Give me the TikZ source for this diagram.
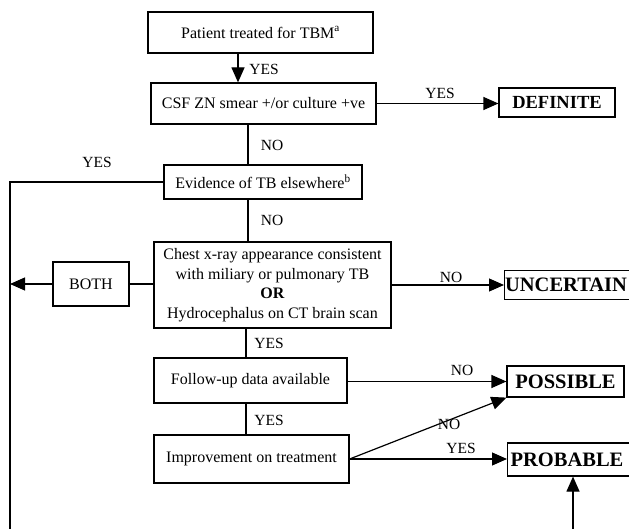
\documentclass[tikz,border=0pt]{standalone}
\usepackage{fontspec}
\setmainfont{Liberation Serif}
\usetikzlibrary{arrows.meta}
\begin{document}
\begin{tikzpicture}[x=1pt,y=-1pt,
  every path/.style={line width=1.2pt},
  box/.style={draw,line width=1.2pt,inner sep=2pt,align=center,font=\fontsize{16}{19.5}\selectfont},
  outbox/.style={draw,line width=1.2pt,inner sep=2pt,font=\fontsize{20.5}{24}\selectfont\bfseries},
  lab/.style={inner sep=0pt,font=\fontsize{15.5}{18}\selectfont},
  arr/.style={-{Triangle[length=15pt,width=13pt]}}]
\useasboundingbox (0,0) rectangle (629,529);
% main boxes
\node[box,minimum width=225,minimum height=41] (b1) at (260.5,32.5) {Patient treated for TBM\textsuperscript{a}};
\node[box,minimum width=225,minimum height=41] (b2) at (263.5,103.5) {CSF ZN smear +/or culture +ve};
\node[box,minimum width=198,minimum height=34] (b3) at (263,182) {Evidence of TB elsewhere\textsuperscript{b}};
\node[box,minimum width=237,minimum height=86,inner sep=1pt] (b4) at (272.5,285) {Chest x-ray appearance consistent\\with miliary or pulmonary TB\\\textbf{OR}\\Hydrocephalus on CT brain scan};
\node[box,minimum width=193,minimum height=45] (b5) at (250.5,380.5) {Follow-up data available};
\node[box,minimum width=195,minimum height=48] (b6) at (251.5,459) {Improvement on treatment};
\node[box,minimum width=76,minimum height=44] (both) at (91,284) {BOTH};
% outcome boxes
\node[outbox,minimum width=116,minimum height=29,font=\fontsize{18.5}{22}\selectfont\bfseries] (def) at (557,102.5) {DEFINITE};
\node[outbox,anchor=west,minimum height=29,inner sep=0.5pt,text width=134,align=left] (unc) at (504,285) {UNCERTAIN};
\node[outbox,minimum width=117,minimum height=31,inner sep=1pt] (pos) at (565.5,381.5) {POSSIBLE};
\node[outbox,anchor=west,minimum height=33,inner sep=3pt,text width=124,align=left] (prob) at (507,459.5) {PROBABLE};
% free ends
\coordinate (lt) at (10,182);
\coordinate (lb) at (10,531);
\coordinate (pb) at (573,531);
% connectors
\draw[arr] (b1.south -| 238,0) -- (b2.north -| 238,0);
\node[lab] at (264,69) {YES};
\draw[arr] (b2.east) -- (def.west |- b2.east);
\node[lab] at (440,93) {YES};
\draw (b2.south -| 248,0) -- (b3.north -| 248,0);
\node[lab] at (272,145) {NO};
\draw (b3.west) -- (lt) -- (lb);
\node[lab] at (97,162) {YES};
\draw (b3.south -| 248,0) -- (b4.north -| 248,0);
\node[lab] at (272,220) {NO};
\draw (b4.west |- both.east) -- (both.east);
\draw[arr] (both.west) -- (both.west -| lt);
\draw[arr] (b4.east) -- (unc.west);
\node[lab] at (451,277) {NO};
\draw (b4.south -| 246,0) -- (b5.north -| 246,0);
\node[lab] at (269,343) {YES};
\draw[arr] (b5.east |- pos.west) -- (pos.west);
\node[lab] at (462,370) {NO};
\draw (b5.south -| 246,0) -- (b6.north -| 246,0);
\node[lab] at (269,420) {YES};
\draw[arr] (b6.east) -- (pos.south west);
\node[lab] at (449,424) {NO};
\draw[arr] (b6.east) -- (prob.west |- b6.east);
\node[lab] at (461,448) {YES};
\draw[arr] (pb) -- (prob.south -| pb);
\end{tikzpicture}
\end{document}
